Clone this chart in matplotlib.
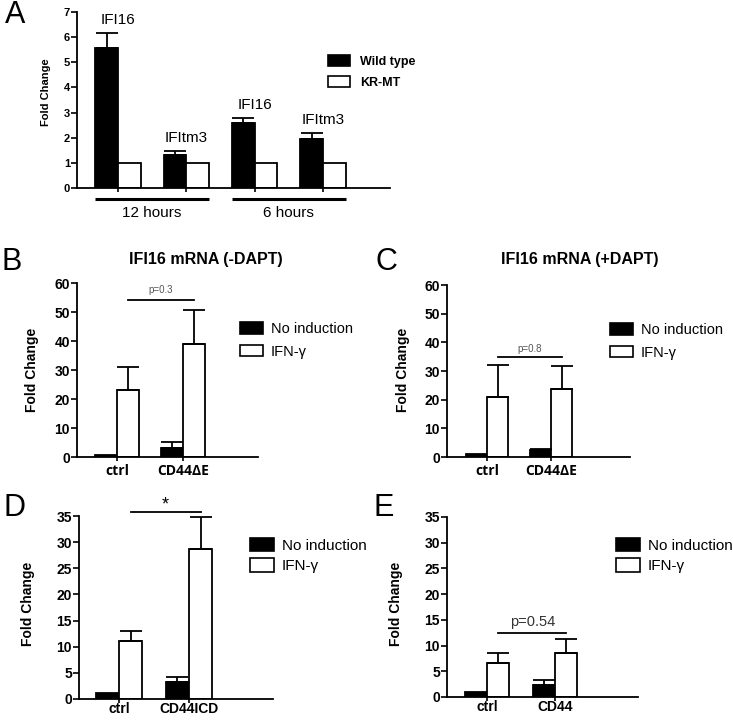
import numpy as np
import matplotlib
matplotlib.use("Agg")
import matplotlib.pyplot as plt
from matplotlib.patches import Patch

plt.rcParams['font.family'] = ['Liberation Sans', 'DejaVu Sans']

W, H = 733, 721

# Panel A data
a_genes = ['IFI16', 'IFItm3', 'IFI16', 'IFItm3']
a_groups = ['12 hours', '6 hours']
a_wt = [5.58, 1.31, 2.60, 1.93]
a_wt_err = [0.58, 0.17, 0.17, 0.24]
a_kr = [1.0, 1.0, 1.0, 1.0]

# Panels B-E data (No induction / IFN-gamma)
b_cats = ['ctrl', 'CD44ΔE']
b_ni = [0.6, 3.2]
b_ni_err = [0.0, 2.0]
b_ifn = [23.2, 39.0]
b_ifn_err = [8.0, 11.8]

c_cats = ['ctrl', 'CD44ΔE']
c_ni = [0.9, 2.6]
c_ni_err = [0.0, 0.3]
c_ifn = [20.8, 23.6]
c_ifn_err = [11.2, 8.1]

d_cats = ['ctrl', 'CD44ICD']
d_ni = [1.1, 3.3]
d_ni_err = [0.0, 0.9]
d_ifn = [11.0, 28.7]
d_ifn_err = [2.1, 6.2]

e_cats = ['ctrl', 'CD44']
e_ni = [1.05, 2.25]
e_ni_err = [0.0, 1.1]
e_ifn = [6.6, 8.65]
e_ifn_err = [2.05, 2.55]

fig = plt.figure(figsize=(W / 100, H / 100), dpi=100)
BW = 0.33


def px_axes(x0, y0, x1, y1):
    return fig.add_axes([x0 / W, 1 - y1 / H, (x1 - x0) / W, (y1 - y0) / H])


def style(ax, ymax, step, fs):
    for s in ['top', 'right']:
        ax.spines[s].set_visible(False)
    for s in ['left', 'bottom']:
        ax.spines[s].set_linewidth(1.3)
    ax.set_ylim(0, ymax)
    ax.spines['left'].set_bounds(0, ymax)
    ax.set_yticks(np.arange(0, ymax + 0.01, step))
    ax.tick_params(axis='y', direction='out', length=4, width=1.2, labelsize=fs, pad=1)
    ax.tick_params(axis='x', direction='out', length=3, width=1.2)
    for t in ax.get_yticklabels():
        t.set_fontweight('bold')


def bars(ax, x, vals, errs, color, cap):
    ax.bar(x, vals, width=BW, color=color, edgecolor='black', linewidth=1.3, zorder=2)
    for xi, v, e in zip(x, vals, errs):
        if e > 0:
            ax.errorbar([xi], [v], yerr=[[0], [e]], fmt='none', ecolor='black',
                        elinewidth=1.3, capsize=cap, capthick=1.3, zorder=3)


# ---------- Panel A ----------
axA = px_axes(77, 12, 390, 188)
xa = np.arange(len(a_wt))
bars(axA, xa - BW / 2, a_wt, a_wt_err, 'black', 8)
bars(axA, xa + BW / 2, a_kr, [0, 0, 0, 0], 'white', 8)
axA.set_xlim(-0.6, 3.98)
style(axA, 7, 1, 8)
axA.set_xticks(xa)
axA.set_xticklabels([])
for xi, g, v, e in zip(xa, a_genes, a_wt, a_wt_err):
    axA.text(xi, v + e + 0.25, g, ha='center', va='bottom', fontsize=11)
for k, lab in enumerate(a_groups):
    x0, x1 = 2 * k - BW, 2 * k + 1 + BW
    axA.plot([x0, x1], [-0.45, -0.45], color='black', lw=2.2, clip_on=False,
             solid_capstyle='butt')
    axA.text((x0 + x1) / 2, -1.0, lab, ha='center', va='center', fontsize=11)
fig.text(46 / W, 1 - 92 / H, 'Fold Change', rotation=90, ha='center', va='center',
         fontsize=8, fontweight='bold')
fig.legend(handles=[Patch(facecolor='black', edgecolor='black', lw=1.2, label='Wild type'),
                    Patch(facecolor='white', edgecolor='black', lw=1.2, label='KR-MT')],
           loc='upper left', bbox_to_anchor=(328 / W, 1 - 55 / H), frameon=False,
           borderpad=0, borderaxespad=0, handlelength=1.76, handleheight=0.96,
           labelspacing=0.7, handletextpad=0.8,
           prop={'size': 9, 'weight': 'bold'})
fig.text(15 / W, 1 - 15 / H, 'A', ha='center', va='center', fontsize=22)


# ---------- Panels B-E ----------
def panel(box, xlim, ymax, step, cats, ni, ni_err, ifn, ifn_err, tickfont, xpad,
          ylab_xy, letter, letter_xy, leg_xy, leg_fs, leg_h, leg_ls, sig_y, sig_text,
          sig_txt_y, sig_fs, sig_color, title=None, title_xy=None):
    ax = px_axes(*box)
    x = np.arange(len(cats))
    bars(ax, x - BW / 2, ni, ni_err, 'black', 8)
    bars(ax, x + BW / 2, ifn, ifn_err, 'white', 8)
    ax.set_xlim(*xlim)
    style(ax, ymax, step, 10)
    ax.set_xticks(x)
    ax.set_xticklabels(cats, fontsize=10, fontweight='bold', family=tickfont)
    ax.tick_params(axis='x', pad=xpad)
    ax.plot([BW / 2, 1 + BW / 2], [sig_y, sig_y], color='black', lw=1.3, clip_on=False)
    ax.text(0.5 + BW / 2, sig_txt_y, sig_text, ha='center', va='center',
            fontsize=sig_fs, color=sig_color)
    fig.text(ylab_xy[0] / W, 1 - ylab_xy[1] / H, 'Fold Change', rotation=90,
             ha='center', va='center', fontsize=10, fontweight='bold')
    fig.text(letter_xy[0] / W, 1 - letter_xy[1] / H, letter, ha='center',
             va='center', fontsize=22)
    if title:
        fig.text(title_xy[0] / W, 1 - title_xy[1] / H, title, ha='center',
                 va='center', fontsize=11.5, fontweight='bold')
    fig.legend(handles=[Patch(facecolor='black', edgecolor='black', lw=1.2, label='No induction'),
                        Patch(facecolor='white', edgecolor='black', lw=1.2, label='IFN-γ')],
               loc='upper left', bbox_to_anchor=(leg_xy[0] / W, 1 - leg_xy[1] / H),
               frameon=False, borderpad=0, borderaxespad=0, handlelength=1.55,
               handleheight=leg_h, labelspacing=leg_ls, handletextpad=0.55,
               prop={'size': leg_fs})
    return ax


panel((77, 283, 258, 457), (-0.606, 2.136), 60, 10, b_cats, b_ni, b_ni_err, b_ifn, b_ifn_err,
      'Open Sans', 2, (32, 370), 'B', (12, 262), (240, 322), 10.5, 0.82, 0.6,
      54, 'p=0.3', 57.5, 7, '#555555', 'IFI16 mRNA (-DAPT)', (206, 259))
panel((447, 285, 630, 457), (-0.625, 2.23), 60, 10, c_cats, c_ni, c_ni_err, c_ifn, c_ifn_err,
      'Open Sans', 2, (403, 370), 'C', (386, 262), (610, 323), 10.5, 0.82, 0.6,
      34.9, 'p=0.8', 37.8, 7, '#555555', 'IFI16 mRNA (+DAPT)', (580, 259))
panel((79, 516, 273, 699), (-0.571, 2.2), 35, 5, d_cats, d_ni, d_ni_err, d_ifn, d_ifn_err,
      'Liberation Sans', -1, (28, 604), 'D', (14, 508), (250, 538), 11, 0.98, 0.35,
      35.8, '*', 37.2, 13, 'black')
panel((447, 517, 638, 697), (-0.588, 2.22), 35, 5, e_cats, e_ni, e_ni_err, e_ifn, e_ifn_err,
      'Liberation Sans', -1, (396, 604), 'E', (384, 508), (616, 538), 11, 0.98, 0.35,
      12.4, 'p=0.54', 14.5, 10.5, '#333333')

fig.savefig('out.png', dpi=100)
